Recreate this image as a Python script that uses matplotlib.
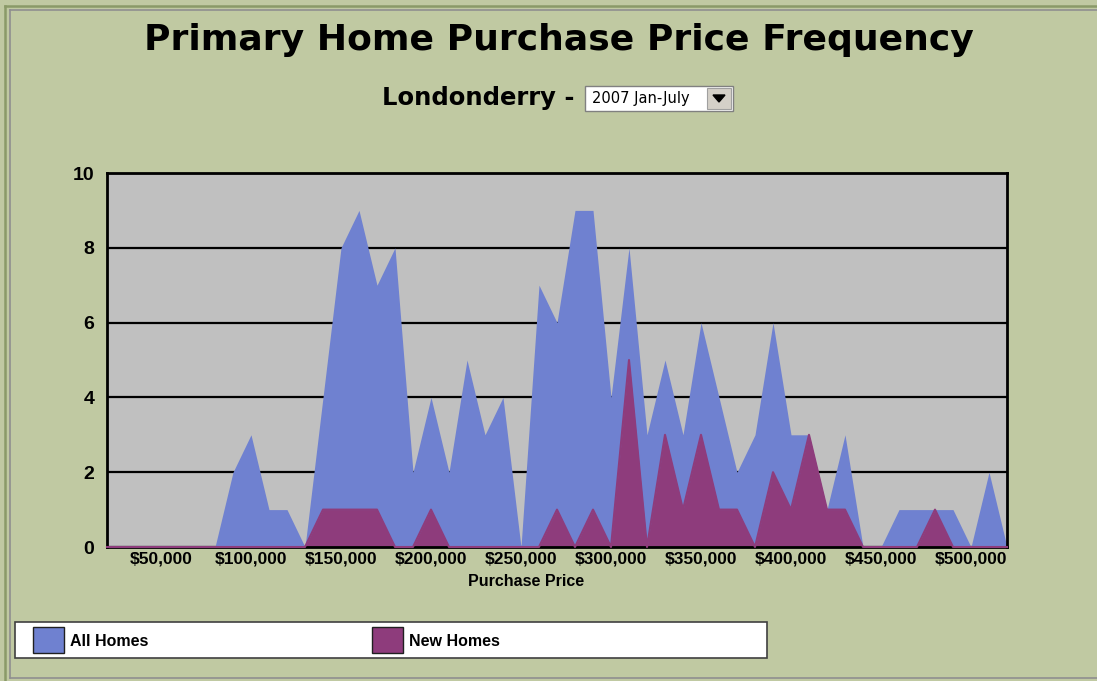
import matplotlib.pyplot as plt
from matplotlib.patches import Rectangle, Polygon

# price bins, $10,000 apart; label every 5th bin
bins = list(range(20000, 530000, 10000))
all_homes = [0, 0, 0, 0, 0, 0, 0, 2, 3, 1, 1, 0, 4, 8, 9, 7, 8, 2, 4, 2,
             5, 3, 4, 0, 7, 6, 9, 9, 4, 8, 3, 5, 3, 6, 4, 2, 3, 6, 3, 3,
             1, 3, 0, 0, 1, 1, 1, 1, 0, 2, 0]
new_homes = [0, 0, 0, 0, 0, 0, 0, 0, 0, 0, 0, 0, 1, 1, 1, 1, 0, 0, 1, 0,
             0, 0, 0, 0, 0, 1, 0, 1, 0, 5, 0, 3, 1, 3, 1, 1, 0, 2, 1, 3,
             1, 1, 0, 0, 0, 0, 1, 0, 0, 0, 0]
tick_labels = ['$50,000', '$100,000', '$150,000', '$200,000', '$250,000',
               '$300,000', '$350,000', '$400,000', '$450,000', '$500,000']
series_names = ['All Homes', 'New Homes']
place = 'Londonderry'
period = '2007 Jan-July'

W, H = 1097, 681
BG = '#c0c9a2'
BLUE = '#6f81d0'
PURPLE = '#8e3c7c'


def fx(x):
    return x / W


def fy(y):
    return 1 - y / H


fig = plt.figure(figsize=(W / 100, H / 100), dpi=100, facecolor=BG)

# page frame
fig.add_artist(plt.Line2D([fx(5), 1], [fy(6), fy(6)], transform=fig.transFigure, color='#8a9a68', lw=1.8))
fig.add_artist(plt.Line2D([fx(5), fx(5)], [fy(6), 0], transform=fig.transFigure, color='#8a9a68', lw=1.8))
fig.add_artist(plt.Line2D([fx(10), 1], [fy(10), fy(10)], transform=fig.transFigure, color='#8f8f8f', lw=1.2))
fig.add_artist(plt.Line2D([fx(10), fx(10)], [fy(10), fy(678)], transform=fig.transFigure, color='#8f8f8f', lw=1.2))
fig.add_artist(plt.Line2D([fx(10), 1], [fy(678), fy(678)], transform=fig.transFigure, color='#8f8f8f', lw=1.2))

fig.text(fx(559), fy(40), 'Primary Home Purchase Price Frequency', ha='center', va='center',
         fontsize=26, fontweight='bold', family='DejaVu Sans')
fig.text(fx(575), fy(98), place + ' -', ha='right', va='center',
         fontsize=17.5, fontweight='bold', family='DejaVu Sans')

# dropdown box
fig.add_artist(Rectangle((fx(585), fy(111)), fx(148), 25 / H, transform=fig.transFigure,
                         facecolor='white', edgecolor='#808080', lw=1))
fig.add_artist(Rectangle((fx(707), fy(109)), fx(24), 21 / H, transform=fig.transFigure,
                         facecolor='#d4d0c8', edgecolor='#a0a0a0', lw=0.8))
fig.add_artist(Polygon([(fx(713), fy(95)), (fx(725), fy(95)), (fx(719), fy(102))],
                       closed=True, transform=fig.transFigure, color='black'))
fig.text(fx(592), fy(99), period, ha='left', va='center', fontsize=10.5, family='DejaVu Sans')

ax = fig.add_axes([fx(107), fy(547), fx(900), 374 / H])
ax.set_facecolor('#c0c0c0')
x = list(range(len(bins)))
ax.fill_between(x, all_homes, color=BLUE, lw=0, zorder=2)
ax.fill_between(x, new_homes, color=PURPLE, lw=0, zorder=3)
ax.plot(x, new_homes, color=PURPLE, lw=1.5, zorder=5, clip_on=False)

ax.set_xlim(0, len(bins) - 1)
ax.set_ylim(0, 10)
ax.set_axisbelow(True)
ax.yaxis.grid(True, color='black', lw=1.6)
for s in ax.spines.values():
    s.set_color('black')
    s.set_linewidth(2)
    s.set_zorder(4)

ax.set_xticks([bins.index(int(t.replace('$', '').replace(',', ''))) for t in tick_labels])
ax.set_xticklabels(tick_labels, fontsize=12.5, fontweight='bold', family='Liberation Sans')
ax.set_yticks(range(0, 11, 2))
ax.set_yticklabels([str(v) for v in range(0, 11, 2)], fontsize=14, fontweight='bold',
                   family='Liberation Sans')
ax.tick_params(axis='x', length=0, pad=3)
ax.tick_params(axis='y', length=0, pad=9)

fig.text(fx(526), fy(582), 'Purchase Price', ha='center', va='center', fontsize=11.5,
         fontweight='bold', family='Liberation Sans')

# legend strip
fig.add_artist(Rectangle((fx(15), fy(658)), fx(752), 36 / H, transform=fig.transFigure,
                         facecolor='white', edgecolor='#404040', lw=1.2))
for name, col, sx in zip(series_names, [BLUE, PURPLE], [33, 372]):
    fig.add_artist(Rectangle((fx(sx), fy(653)), fx(31), 26 / H, transform=fig.transFigure,
                             facecolor=col, edgecolor='#202020', lw=1))
    fig.text(fx(sx + 37), fy(641), name, ha='left', va='center', fontsize=11.5,
             fontweight='bold', family='Liberation Sans')

fig.savefig('out.png', dpi=100, facecolor=BG)
